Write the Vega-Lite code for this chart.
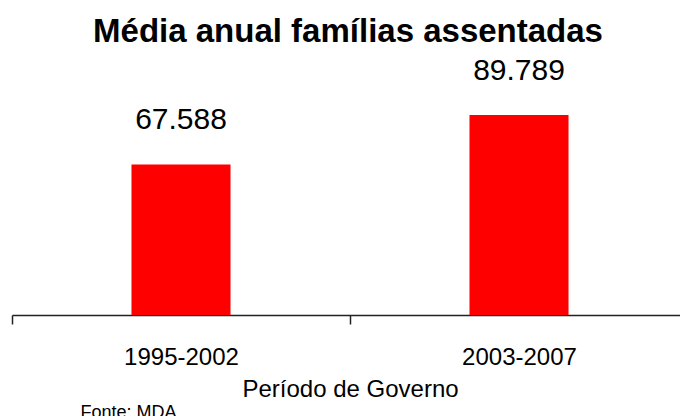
{
  "$schema": "https://vega.github.io/schema/vega-lite/v6.json",
  "autosize": "none",
  "width": 676,
  "height": 255,
  "padding": {"left": 12, "top": 60, "right": 0, "bottom": 101},
  "background": "white",
  "config": {
    "font": "Liberation Sans",
    "view": {"stroke": null},
    "locale": {
      "number": {"decimal": ",", "thousands": ".", "grouping": [3], "currency": ["R$ ", ""]}
    }
  },
  "title": {
    "text": "Média anual famílias assentadas",
    "fontSize": 33,
    "fontWeight": "bold",
    "color": "black",
    "anchor": "middle",
    "frame": "group",
    "baseline": "alphabetic",
    "offset": 18,
    "dy": 37,
    "dx": -2
  },
  "data": {
    "values": [
      {"periodo": "1995-2002", "familias": 67588},
      {"periodo": "2003-2007", "familias": 89789}
    ]
  },
  "encoding": {
    "x": {
      "field": "periodo",
      "type": "nominal",
      "sort": null,
      "scale": {"paddingInner": 0, "paddingOuter": 0},
      "axis": {
        "title": "Período de Governo",
        "titleFontSize": 24,
        "titleFontWeight": "normal",
        "titleColor": "black",
        "titleBaseline": "alphabetic",
        "titlePadding": 27,
        "labelAngle": 0,
        "labelFontSize": 24,
        "labelColor": "black",
        "labelBaseline": "alphabetic",
        "labelPadding": 40,
        "tickBand": "extent",
        "tickSize": 9,
        "tickColor": "#222222",
        "tickWidth": 1.5,
        "domainColor": "#222222",
        "domainWidth": 1.5,
        "grid": false
      }
    },
    "y": {
      "field": "familias",
      "type": "quantitative",
      "scale": {"domain": [0, 114500]},
      "axis": {
        "title": "Fonte: MDA",
        "titleAngle": 0,
        "titleFontSize": 18,
        "titleFontWeight": "normal",
        "titleColor": "black",
        "titleAlign": "left",
        "titleBaseline": "alphabetic",
        "titleX": 68,
        "titleY": 357,
        "labels": false,
        "ticks": false,
        "domain": false,
        "grid": false
      }
    }
  },
  "layer": [
    {
      "mark": {"type": "bar", "color": "#FF0000", "width": {"band": 0.293}}
    },
    {
      "mark": {
        "type": "text",
        "fontSize": 30,
        "color": "black",
        "baseline": "alphabetic",
        "align": "center",
        "dy": -35
      },
      "encoding": {
        "text": {"field": "familias", "type": "quantitative", "format": ","}
      }
    }
  ]
}
